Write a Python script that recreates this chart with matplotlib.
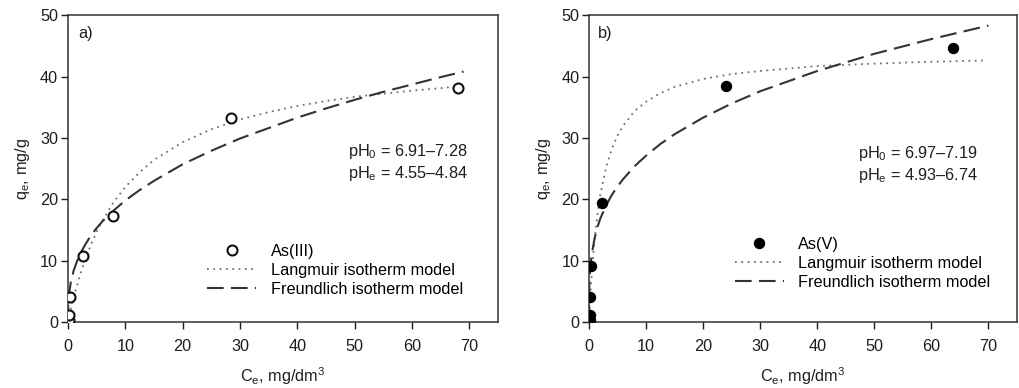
import numpy as np
import matplotlib
matplotlib.use("Agg")
import matplotlib.pyplot as plt

plt.rcParams['font.family'] = ['Liberation Sans', 'DejaVu Sans']
plt.rcParams['mathtext.fontset'] = 'custom'
plt.rcParams['mathtext.rm'] = 'Liberation Sans'
plt.rcParams['mathtext.it'] = 'Liberation Sans:italic'

# ----------------------------
# Data
# ----------------------------

# a) As(III) measured points
ce_as3 = [0.1, 0.2, 0.3, 2.6, 7.85, 28.5, 68.0]
qe_as3 = [0.3, 1.1, 4.0, 10.8, 17.3, 33.3, 38.1]

# b) As(V) measured points
ce_as5 = [0.1, 0.1, 0.1, 0.3, 2.2, 24.0, 63.8]
qe_as5 = [0.4, 1.1, 4.0, 9.2, 19.4, 38.4, 44.6]

# model curves
ce_fit_a = [0, 0.05, 0.1, 0.25, 0.5, 1, 1.5, 2, 3, 4, 5, 6, 8, 10, 12.5, 15,
            20, 25, 30, 35, 40, 45, 50, 55, 60, 65, 69]
langmuir_a = [0, 0.2, 0.4, 1.1, 2.1, 4.0, 5.7, 7.3, 10.2, 12.6, 14.7, 16.5,
              19.6, 22.0, 24.4, 26.4, 29.3, 31.4, 33.0, 34.2, 35.2, 36.0,
              36.7, 37.2, 37.7, 38.1, 38.5]
freundlich_a = [0, 2.7, 3.5, 5.0, 6.5, 8.4, 9.7, 10.9, 12.6, 14.1, 15.3, 16.4,
                18.2, 19.8, 21.5, 23.0, 25.7, 27.9, 29.9, 31.6, 33.3, 34.8,
                36.2, 37.5, 38.7, 39.9, 40.8]

ce_fit_b = [0, 0.05, 0.1, 0.25, 0.5, 0.75, 1, 1.5, 2, 3, 4, 5, 6, 8, 10, 12.5,
            15, 20, 25, 30, 40, 50, 60, 69]
langmuir_b = [0, 1.0, 1.9, 4.4, 8.0, 11.0, 13.6, 17.6, 20.8, 25.2, 28.2, 30.4,
              32.0, 34.4, 35.9, 37.3, 38.3, 39.6, 40.4, 40.9, 41.7, 42.1,
              42.4, 42.6]
ce_fit_b2 = [0, 0.05, 0.1, 0.25, 0.5, 1, 1.5, 2, 3, 4, 5, 6, 8, 10, 12.5, 15,
             20, 25, 30, 40, 50, 60, 70]
freundlich_b = [0, 5.7, 6.9, 9.1, 11.2, 13.7, 15.5, 16.9, 19.0, 20.7, 22.1,
                23.3, 25.4, 27.1, 29.0, 30.6, 33.3, 35.6, 37.6, 40.9, 43.7,
                46.1, 48.3]

ph_text_a = ['pH$_0$ = 6.91\u20137.28', 'pH$_\\mathrm{e}$ = 4.55\u20134.84']
ph_text_b = ['pH$_0$ = 6.97\u20137.19', 'pH$_\\mathrm{e}$ = 4.93\u20136.74']

# ----------------------------
# Plot
# ----------------------------

fig = plt.figure(figsize=(10.19, 3.88), dpi=100)
ax_a = fig.add_axes([0.0667, 0.170, 0.422, 0.791])
ax_b = fig.add_axes([0.578, 0.170, 0.420, 0.791])

fs = 11.7
line_col = '#333333'
dot_col = '#707070'
txt_col = '#1e1e1e'


def style_axes(ax):
    ax.set_xlim(0, 75)
    ax.set_ylim(0, 50)
    ax.set_xticks(range(0, 71, 10))
    ax.set_yticks(range(0, 51, 10))
    ax.tick_params(direction='out', length=5, width=1, labelsize=fs,
                   colors=txt_col, top=False, right=False)
    ax.tick_params(axis='x', pad=7)
    ax.tick_params(axis='y', pad=2)
    for sp in ax.spines.values():
        sp.set_linewidth(1.1)
        sp.set_color('#333333')
    ax.set_xlabel('C$_\\mathrm{e}$, mg/dm$^3$', fontsize=fs, color=txt_col, labelpad=8)
    ax.set_ylabel('q$_\\mathrm{e}$, mg/g', fontsize=fs, color=txt_col, labelpad=6)


# panel a
ax_a.plot(ce_fit_a, langmuir_a, linestyle=(0, (1, 2.5)), color=dot_col, lw=1.3,
          label='Langmuir isotherm model', zorder=2)
ax_a.plot(ce_fit_a, freundlich_a, linestyle=(0, (8, 3.5)), color=line_col, lw=1.5,
          label='Freundlich isotherm model', zorder=2)
ax_a.plot(ce_as3, qe_as3, 'o', mfc='white', mec='#111111', mew=1.5, ms=7.2,
          label='As(III)', zorder=3)
style_axes(ax_a)
ax_a.text(0.023, 0.94, 'a)', transform=ax_a.transAxes, fontsize=fs, va='center', color=txt_col)
ax_a.text(0.651, 0.557, ph_text_a[0], transform=ax_a.transAxes, fontsize=fs, va='center', color=txt_col)
ax_a.text(0.651, 0.485, ph_text_a[1], transform=ax_a.transAxes, fontsize=fs, va='center', color=txt_col)
h, l = ax_a.get_legend_handles_labels()
ax_a.legend([h[2], h[0], h[1]], [l[2], l[0], l[1]], loc='center left',
            bbox_to_anchor=(0.305, 0.169), frameon=False, fontsize=fs,
            handlelength=3.0, handletextpad=0.9, labelspacing=0.25, borderpad=0)

# panel b
ax_b.plot(ce_fit_b, langmuir_b, linestyle=(0, (1, 2.5)), color=dot_col, lw=1.3,
          label='Langmuir isotherm model', zorder=2)
ax_b.plot(ce_fit_b2, freundlich_b, linestyle=(0, (8, 3.5)), color=line_col, lw=1.5,
          label='Freundlich isotherm model', zorder=2)
ax_b.plot(ce_as5, qe_as5, 'o', mfc='black', mec='black', ms=7.2,
          label='As(V)', zorder=3)
style_axes(ax_b)
ax_b.text(0.021, 0.94, 'b)', transform=ax_b.transAxes, fontsize=fs, va='center', color=txt_col)
ax_b.text(0.628, 0.55, ph_text_b[0], transform=ax_b.transAxes, fontsize=fs, va='center', color=txt_col)
ax_b.text(0.628, 0.479, ph_text_b[1], transform=ax_b.transAxes, fontsize=fs, va='center', color=txt_col)
h, l = ax_b.get_legend_handles_labels()
ax_b.legend([h[2], h[0], h[1]], [l[2], l[0], l[1]], loc='center left',
            bbox_to_anchor=(0.322, 0.192), frameon=False, fontsize=fs,
            handlelength=3.0, handletextpad=0.9, labelspacing=0.25, borderpad=0)

fig.savefig('out.png', dpi=100)
